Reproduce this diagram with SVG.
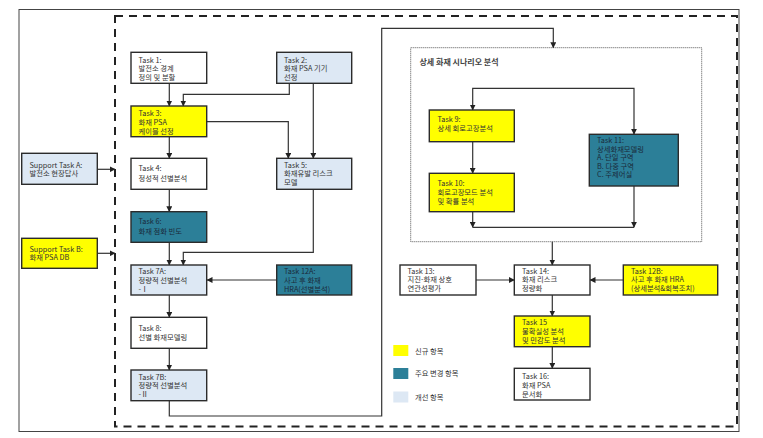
<svg xmlns="http://www.w3.org/2000/svg" width="763" height="438" viewBox="0 0 763 438">
<style>
text{font-family:"Noto Sans CJK KR","Noto Sans",sans-serif;font-size:7.3px;fill:#333}
.b{stroke:#2b2b2b;stroke-width:1.4}
.w{fill:#fff}.y{fill:#ffff00}.t{fill:#2c7f98}.l{fill:#dde8f4}
.dk{fill:#1a2a3a}
.c path{fill:none;stroke:#333;stroke-width:1.2}
.a{marker-end:url(#ah)}
</style>
<defs>
<marker id="ah" markerWidth="6" markerHeight="6" refX="5.5" refY="3" orient="auto" markerUnits="userSpaceOnUse">
<path d="M0,0 L6,3 L0,6 z" fill="#222"/>
</marker>
</defs>
<rect x="0" y="0" width="763" height="438" fill="#fff"/>
<rect x="19" y="9.5" width="720" height="422" fill="none" stroke="#444" stroke-width="1"/>
<rect x="115" y="16" width="622" height="410.5" fill="none" stroke="#222" stroke-width="2" stroke-dasharray="8,6"/>
<rect x="410.7" y="47.7" width="291" height="194" fill="none" stroke="#555" stroke-width="1" stroke-dasharray="1,1"/>
<text x="419.5" y="64.5" style="font-size:8px;font-weight:bold;fill:#444">상세 화재 시나리오 분석</text>

<g class="c">
<path class="a" d="M169.3,83.3 V106"/>
<path class="a" d="M289.3,83.3 V94.3 H183.3 V106"/>
<path class="a" d="M313.3,83.3 V158.3"/>
<path class="a" d="M207,121.7 H288.3 V158.3"/>
<path class="a" d="M169.3,136.7 V158.3"/>
<path class="a" d="M97.3,169.3 H115"/>
<path class="a" d="M97.3,253.3 H115"/>
<path class="a" d="M169.3,189.3 V211.7"/>
<path class="a" d="M169.3,242.3 V265"/>
<path class="a" d="M313.3,189.3 V252.3 H183.3 V265"/>
<path class="a" d="M276.7,280 H207"/>
<path class="a" d="M169.3,295 V317.3"/>
<path class="a" d="M169.3,348.3 V370"/>
<path class="a" d="M169.3,400.7 V416 H381.7 V28.3 H553.3 V47.7"/>
<path class="a" d="M552,88.3 H634 V134.3"/>
<path class="a" d="M552,88.3 H472.7 V110"/>
<path class="a" d="M472.7,141.7 V173.3"/>
<path class="a" d="M472.7,211.7 V227.3"/>
<path class="a" d="M634,186 V227.3"/>
<path d="M472.7,227.3 H634"/>
<path class="a" d="M552.3,241.7 V265"/>
<path class="a" d="M476,280 H514.3"/>
<path class="a" d="M623.3,280 H590"/>
<path class="a" d="M552.3,295 V316"/>
<path class="a" d="M552.3,346.7 V368.3"/>
</g>

<g id="task1"><rect class="b w" x="131" y="52.3" width="75.7" height="31"/><text x="138.5" y="62.5">Task 1:<tspan x="138.5" dy="8.8">발전소 경계</tspan><tspan x="138.5" dy="8.8">정의 및 분할</tspan></text></g>
<g id="task2"><rect class="b l" x="276.7" y="52.3" width="75" height="31"/><text x="284" y="62.5">Task 2:<tspan x="284" dy="8.8">화재 PSA 기기</tspan><tspan x="284" dy="8.8">선정</tspan></text></g>
<g id="task3"><rect class="b y" x="131" y="106" width="75.7" height="30.7"/><text x="138.5" y="116">Task 3:<tspan x="138.5" dy="8.8">화재 PSA</tspan><tspan x="138.5" dy="8.8">케이블 선정</tspan></text></g>
<g id="supportA"><rect class="b l" x="21.7" y="153.3" width="75.6" height="31"/><text x="29.5" y="167.5">Support Task A:<tspan x="29.5" dy="8.8">발전소 현장답사</tspan></text></g>
<g id="task4"><rect class="b w" x="131" y="158.3" width="75.7" height="31"/><text x="138.5" y="171">Task 4:<tspan x="138.5" dy="9.5">정성적 선별분석</tspan></text></g>
<g id="task5"><rect class="b l" x="276.7" y="158.3" width="75" height="31"/><text x="284" y="167.5">Task 5:<tspan x="284" dy="8.8">화재유발 리스크</tspan><tspan x="284" dy="8.8">모델</tspan></text></g>
<g id="task6"><rect class="b t" x="131" y="211.7" width="75.7" height="30.6"/><text class="dk" x="138.5" y="224.3">Task 6:<tspan x="138.5" dy="9.3">화재 점화 빈도</tspan></text></g>
<g id="supportB"><rect class="b y" x="21.7" y="238.3" width="75.6" height="30"/><text x="29.5" y="251.5">Support Task B:<tspan x="29.5" dy="8.8">화재 PSA DB</tspan></text></g>
<g id="task7a"><rect class="b l" x="131" y="265" width="75.7" height="30"/><text x="138.5" y="274">Task 7A:<tspan x="138.5" dy="8.8">정량적 선별분석</tspan><tspan x="138.5" dy="8.8">-Ⅰ</tspan></text></g>
<g id="task12a"><rect class="b t" x="276.7" y="265" width="75" height="30"/><text class="dk" x="284" y="274">Task 12A:<tspan x="284" dy="8.8">사고 후 화재</tspan><tspan x="284" dy="8.8">HRA(선별분석)</tspan></text></g>
<g id="task8"><rect class="b w" x="131" y="317.3" width="75.7" height="31"/><text x="138.5" y="330.8">Task 8:<tspan x="138.5" dy="9.5">선별 화재모델링</tspan></text></g>
<g id="task7b"><rect class="b l" x="131" y="370" width="75.7" height="30.7"/><text x="138.5" y="379.5">Task 7B:<tspan x="138.5" dy="8.8">정량적 선별분석</tspan><tspan x="138.5" dy="8.8">-Ⅱ</tspan></text></g>

<g id="task9"><rect class="b y" x="429.3" y="110" width="85" height="31.7"/><text x="437.5" y="122">Task 9:<tspan x="437.5" dy="9">상세 회로고장분석</tspan></text></g>
<g id="task11"><rect class="b t" x="589.3" y="134.3" width="89" height="51.7"/><text class="dk" x="597" y="143">Task 11:<tspan x="597" dy="8.6">상세화재모델링</tspan><tspan x="597" dy="8.6">A. 단일 구역</tspan><tspan x="597" dy="8.6">B. 다중 구역</tspan><tspan x="597" dy="8.6">C. 주제어실</tspan></text></g>
<g id="task10"><rect class="b y" x="429.3" y="173.3" width="85" height="38.4"/><text x="437.5" y="186">Task 10:<tspan x="437.5" dy="9">회로고장모드 분석</tspan><tspan x="437.5" dy="9">및 확률 분석</tspan></text></g>
<g id="task13"><rect class="b w" x="400" y="265" width="76" height="30"/><text x="407.5" y="273.5">Task 13:<tspan x="407.5" dy="8.8">지진-화재 상호</tspan><tspan x="407.5" dy="8.8">연관성평가</tspan></text></g>
<g id="task14"><rect class="b w" x="514.3" y="265" width="75.7" height="30"/><text x="522" y="273.5">Task 14:<tspan x="522" dy="8.8">화재 리스크</tspan><tspan x="522" dy="8.8">정량화</tspan></text></g>
<g id="task12b"><rect class="b y" x="623.3" y="265" width="94.4" height="30"/><text x="631" y="273.5">Task 12B:<tspan x="631" dy="8.8">사고 후 화재 HRA</tspan><tspan x="631" dy="8.8">(상세분석&amp;회복조치)</tspan></text></g>
<g id="task15"><rect class="b y" x="514.3" y="316" width="75.7" height="30.7"/><text x="522" y="325">Task 15<tspan x="522" dy="9">불확실성 분석</tspan><tspan x="522" dy="9">및 민감도 분석</tspan></text></g>
<g id="task16"><rect class="b w" x="514.3" y="368.3" width="75.7" height="31.7"/><text x="522" y="379.2">Task 16:<tspan x="522" dy="8.7">화재 PSA</tspan><tspan x="522" dy="8.7">문서화</tspan></text></g>

<g id="legend">
<rect x="393.3" y="345" width="15" height="11" fill="#ffff00"/><text x="415" y="353.5">신규 항목</text>
<rect x="393.3" y="368" width="15" height="11" fill="#2c7f98"/><text x="415" y="376">주요 변경 항목</text>
<rect x="393.3" y="391.5" width="15" height="11" fill="#dde8f4"/><text x="415" y="399.5">개선 항목</text>
</g>
</svg>
